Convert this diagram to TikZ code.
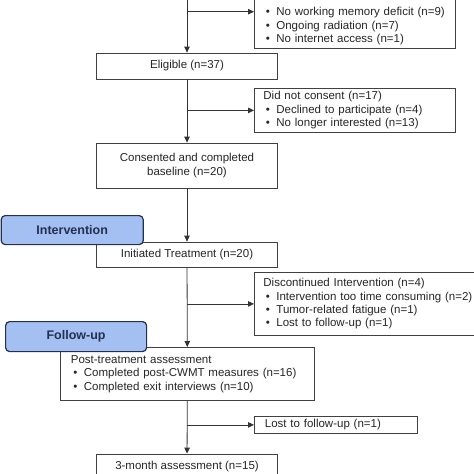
\documentclass[tikz,border=0pt]{standalone}
\usepackage{fontspec}
\setmainfont{Liberation Sans}
\usetikzlibrary{arrows.meta}
\definecolor{tabblue}{RGB}{164,191,242}
\definecolor{tabnavy}{RGB}{36,48,80}
\newcommand{\itm}{\makebox[13pt][l]{\hspace{2.5pt}\textbullet}}

\begin{document}
\begin{tikzpicture}[x=1pt, y=-1pt,
    every node/.style={font=\fontsize{11.5}{13.4}\selectfont, text=black!85},
    box/.style={draw=black!75, line width=0.8pt, minimum height=26pt, inner sep=0pt},
    side/.style={box, anchor=north west, align=left, inner xsep=9pt, inner ysep=2.5pt},
    tab/.style={draw=tabnavy, fill=tabblue, line width=1.2pt, rounded corners=4pt,
        font=\bfseries\fontsize{12.5}{14}\selectfont, text=tabnavy, anchor=north west, inner sep=0pt},
    arr/.style={-{Triangle[length=6pt,width=5.5pt]}, draw=black!80, line width=0.8pt}]
        \useasboundingbox (0,0) rectangle (474,474);
        \clip (0,0) rectangle (474,474);
        \fill[white] (0,0) rectangle (474,474);

        % Main column:
        \node[box, minimum width=181pt] (elig) at (187,66) {Eligible (n=37)};
        \node[box, minimum width=181pt, minimum height=45pt, align=center] (cons) at (187,165.5)
            {Consented and completed\\baseline (n=20)};
        \node[box, minimum width=181pt, minimum height=25pt] (init) at (187,254.5) {Initiated Treatment (n=20)};
        \node[side, text width=233pt, inner xsep=10.5pt, minimum height=53pt] (post) at (60,347)
            {Post-treatment assessment\\
             \itm Completed post-CWMT measures (n=16)\\
             \itm Completed exit interviews (n=10)};
        \node[box, minimum width=181pt] (three) at (187,467) {3-month assessment (n=15)};

        % Side boxes:
        \node[side, draw=none, anchor=south west, text width=183pt] (excl) at (254,48)
            {\itm No working memory deficit (n=9)\\
             \itm Ongoing radiation (n=7)\\
             \itm No internet access (n=1)};
        \draw[black!75, line width=0.8pt] (excl.south west) rectangle ([yshift=40pt]excl.north east);
        \node[side, text width=183pt, minimum height=44pt] (nocon) at (254,88)
            {Did not consent (n=17)\\
             \itm Declined to participate (n=4)\\
             \itm No longer interested (n=13)};
        \node[side, text width=226pt, minimum height=63pt] (disc) at (254,272)
            {Discontinued Intervention (n=4)\\
             \itm Intervention too time consuming (n=2)\\
             \itm Tumor-related fatigue (n=1)\\
             \itm Lost to follow-up (n=1)};
        \node[side, text width=142pt, inner xsep=10.5pt, inner ysep=0pt, minimum height=17pt] (lost) at (254,416)
            {Lost to follow-up (n=1)};

        % Phase tabs:
        \node[tab, minimum width=142pt, minimum height=29pt] (interv) at (0.6,215) {Intervention};
        \node[tab, minimum width=141pt, minimum height=30pt] (follow) at (5,321) {Follow-up};

        % Arrows:
        \coordinate (start) at (187,-2);
        \coordinate (e1) at (187,11.7);
        \draw[arr] (start) -- (elig.north);
        \draw[arr] (e1) -- (e1 -| excl.west);
        \draw[arr] (elig) -- (cons);
        \draw[arr] (elig.south |- nocon.west) -- (nocon.west);
        \draw[arr] (cons) -- (init);
        \draw[arr] (init.south |- disc.west) -- (disc.west);
        \draw[arr] (init) -- (post);
        \draw[arr] (post.south |- lost.west) -- (lost.west);
        \draw[arr] (post) -- (three);
\end{tikzpicture}
\end{document}
